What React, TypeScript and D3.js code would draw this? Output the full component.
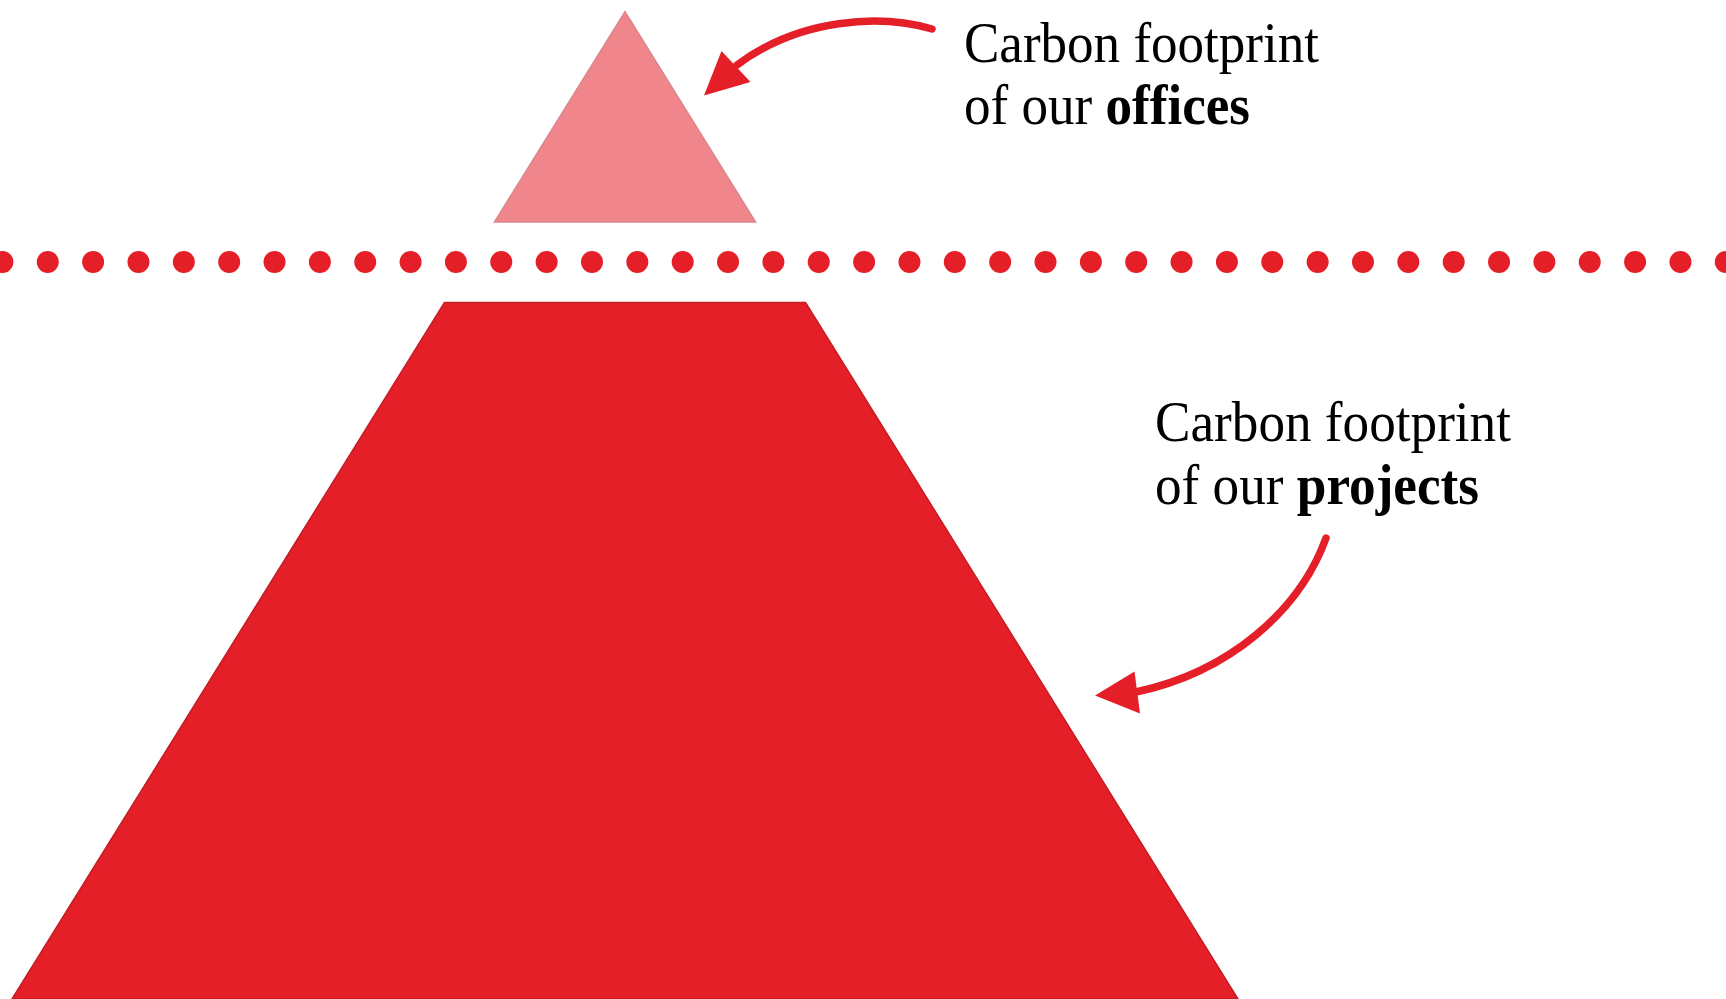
import * as d3 from "d3";

// iceberg layers, depth in % of the drawn iceberg height (0 = tip)
const layers = ["offices", "projects"];
const layerTop = [0, 29.45];
const layerBottom = [21.3, 100];
const layerColors = ["#F0868C", "#E41F28"];
const layerStroke = ["#D7868C", "#C41C24"];
const waterline = 25.35;
const dotCount = 39;

const labelLines = [
  ["Carbon footprint", "of our "],
  ["Carbon footprint", "of our "],
];

const W = 1726;
const H = 999;
const RED = "#E41F28";

export default function App() {
  const cx = 625;
  const y = d3.scaleLinear().domain([0, 100]).range([11.7, 999]);
  const halfW = d3.scaleLinear().domain([0, 100]).range([0, 613]);
  const dotX = d3.scaleLinear().domain([0, dotCount - 1]).range([2.4, 1725.8]);

  const shape = (top: number, bottom: number) => {
    const pts: [number, number][] = [
      [cx - halfW(top), y(top)],
      [cx + halfW(top), y(top)],
      [cx + halfW(bottom), y(bottom)],
      [cx - halfW(bottom), y(bottom)],
    ];
    return d3.line()(pts) + "Z";
  };

  const arrow1 = d3.path();
  arrow1.moveTo(932, 29);
  arrow1.bezierCurveTo(880, 14, 800, 18, 737, 65);
  const arrow2 = d3.path();
  arrow2.moveTo(1326, 538);
  arrow2.bezierCurveTo(1300, 610, 1230, 672, 1136, 692);

  const font = "'Liberation Serif', 'Times New Roman', serif";
  // the original face is a bit narrower than Liberation Serif
  const fit = { lengthAdjust: "spacingAndGlyphs" as const };

  return (
    <svg
      width={W}
      height={H}
      style={{ position: "absolute", left: 0, top: 0, background: "#fff" }}
    >
      {layers.map((l, i) => (
        <path
          key={l}
          d={shape(layerTop[i], layerBottom[i])}
          fill={layerColors[i]}
          stroke={layerStroke[i]}
          strokeWidth={1.5}
        />
      ))}

      {/* waterline */}
      {d3.range(dotCount).map((i) => (
        <circle key={i} cx={dotX(i)} cy={y(waterline)} r={11} fill={RED} />
      ))}

      {/* arrows */}
      <path d={arrow1.toString()} fill="none" stroke={RED} strokeWidth={7.5} strokeLinecap="round" />
      <polygon points="704,95.5 721.5,51 750.5,82" fill={RED} />
      <path d={arrow2.toString()} fill="none" stroke={RED} strokeWidth={7.5} strokeLinecap="round" />
      <polygon points="1095,695.5 1134.5,671.5 1140,713.5" fill={RED} />

      {/* labels */}
      <text x={964} y={61.5} fontFamily={font} fontSize={57} fill="#000" textLength={355} {...fit}>
        {labelLines[0][0]}
      </text>
      <text x={964} y={123.5} fontFamily={font} fontSize={57} fill="#000" textLength={286} {...fit}>
        {labelLines[0][1]}
        <tspan fontWeight="bold">{layers[0]}</tspan>
      </text>
      <text x={1155} y={441} fontFamily={font} fontSize={57} fill="#000" textLength={356} {...fit}>
        {labelLines[1][0]}
      </text>
      <text x={1155} y={504} fontFamily={font} fontSize={57} fill="#000" textLength={324} {...fit}>
        {labelLines[1][1]}
        <tspan fontWeight="bold">{layers[1]}</tspan>
      </text>
    </svg>
  );
}
